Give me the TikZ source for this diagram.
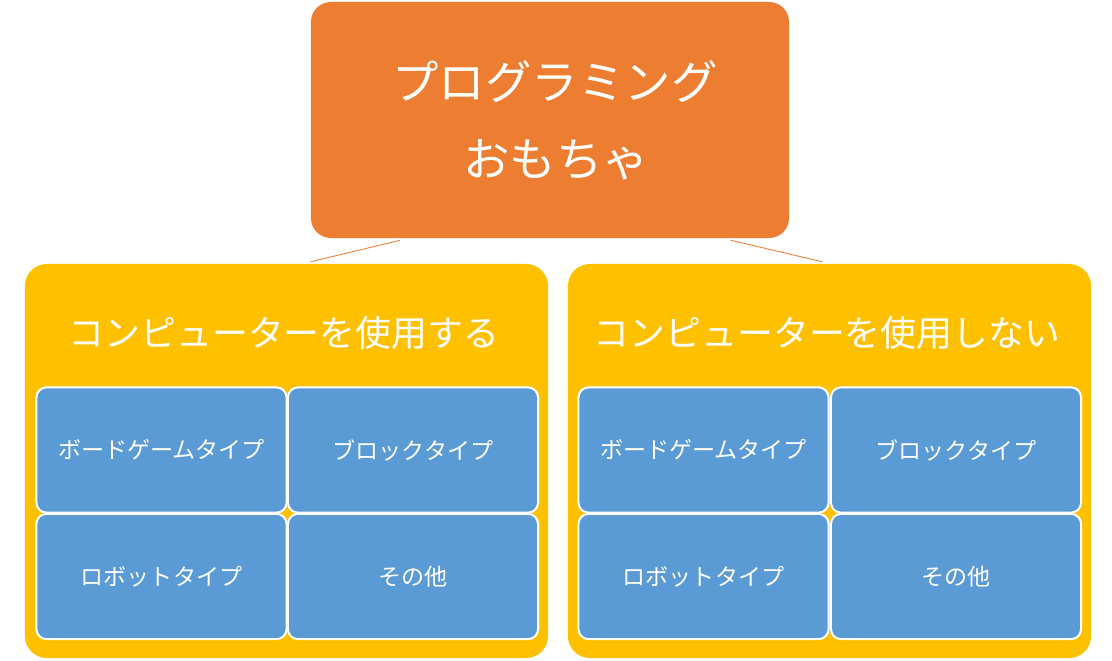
\documentclass[tikz,border=0pt]{standalone}
\usepackage{fontspec}
\newfontfamily\jp{Noto Sans CJK JP}
\definecolor{toporange}{HTML}{ED7D31}
\definecolor{boxyellow}{HTML}{FFC000}
\definecolor{cellblue}{HTML}{5B9BD5}
\begin{document}
\begin{tikzpicture}[x=0.025cm, y=-0.025cm, line join=round, line cap=round,
	rootbox/.style={fill=toporange, rounded corners=0.5cm, minimum width=11.95cm, minimum height=5.9cm,
		text=white, align=center, font=\jp\fontsize{33}{55}\selectfont},
	groupbox/.style={fill=boxyellow, rounded corners=0.55cm, minimum width=13.075cm, minimum height=9.85cm},
	grouptitle/.style={text=white, font=\jp\fontsize{25.5}{30}\selectfont},
	cell/.style={fill=cellblue, draw=white, line width=1.4pt, rounded corners=0.25cm,
		minimum width=6.25cm, minimum height=3.13cm, text=white, font=\jp\fontsize{16.4}{20}\selectfont},
	link/.style={draw=toporange, line width=0.6pt}]
	\useasboundingbox (0,0) rectangle (1112,660);
	\node[rootbox] (root) at (550,120) {\hspace*{0.25cm}プログラミング\\\hspace*{0.3cm}おもちゃ};
	\node[groupbox] (use) at (286.5,461) {};
	\node[groupbox] (nouse) at (829.5,461) {};
	\draw[link] ([xshift=-3.75cm,yshift=-0.05cm]root.south) -- ([xshift=0.61cm,yshift=0.05cm]use.north);
	\draw[link] ([xshift=4.525cm,yshift=-0.05cm]root.south) -- ([xshift=-0.19cm,yshift=0.05cm]nouse.north);
	\node[grouptitle] (usetitle) at (284,333) {コンピューターを使用する};
	\node[grouptitle] (nousetitle) at (827,333) {コンピューターを使用しない};
	\node[cell] (useboard) at (161.5,450) {ボードゲームタイプ};
	\node[cell] (useblock) at (413,450) {ブロックタイプ};
	\node[cell] (userobot) at (161.5,576.5) {ロボットタイプ};
	\node[cell] (useother) at (413,576.5) {その他};
	\node[cell] (nouseboard) at (703.5,450) {ボードゲームタイプ};
	\node[cell] (nouseblock) at (956,450) {ブロックタイプ};
	\node[cell] (nouserobot) at (703.5,576.5) {ロボットタイプ};
	\node[cell] (nouseother) at (956,576.5) {その他};
\end{tikzpicture}
\end{document}
